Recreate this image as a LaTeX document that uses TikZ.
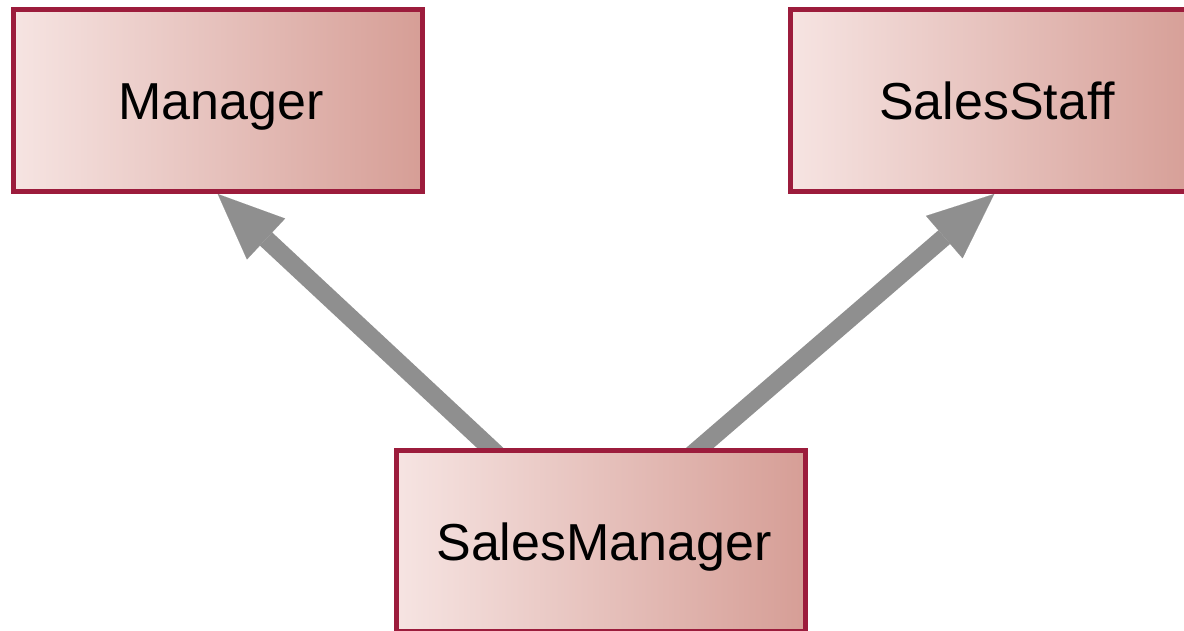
\documentclass[tikz,border=0pt]{standalone}
\usepackage{fontspec}
\setmainfont{Liberation Sans}
\usetikzlibrary{arrows.meta,backgrounds}
\definecolor{classedge}{RGB}{156,28,60}
\definecolor{classlight}{RGB}{246,228,226}
\definecolor{classdark}{RGB}{214,158,150}
\definecolor{inhgray}{RGB}{143,143,143}
% even left-to-right fade over the whole box
\pgfdeclarehorizontalshading{classfade}{100bp}{color(0bp)=(classlight); color(25bp)=(classlight); color(75bp)=(classdark); color(100bp)=(classdark)}
\tikzset{
  classbox/.style={rectangle, draw=classedge, line width=5pt,
    shading=classfade, shading angle=0,
    minimum width=408.5pt, minimum height=181.5pt, inner sep=0pt,
    font=\fontsize{52}{60}\selectfont, text height=38pt, text depth=0pt,
    execute at begin node=\hspace*{6pt}},
  inherits/.style={draw=inhgray, line width=18pt,
    -{Triangle[length=66pt,width=56pt,line width=0.1pt,fill=inhgray]},
    shorten <=-14pt}
}
\begin{document}
\begin{tikzpicture}[x=1pt,y=-1pt]
  \useasboundingbox (0,0) rectangle (1184,631);
  \clip (0,0) rectangle (1184,631);
  % classes
  \node[classbox] (mgr) at (217.75,100.75) {Manager};
  \node[classbox] (ss)  at (994.25,100.75) {SalesStaff};
  \node[classbox] (sm)  at (601,541) {SalesManager};
  % generalisation arrows, behind the boxes
  \begin{scope}[on background layer]
    \draw[inherits] ([xshift=-111pt]sm.north) -- (mgr.south);
    \draw[inherits] ([xshift=99pt]sm.north) -- (ss.south);
  \end{scope}
\end{tikzpicture}
\end{document}
